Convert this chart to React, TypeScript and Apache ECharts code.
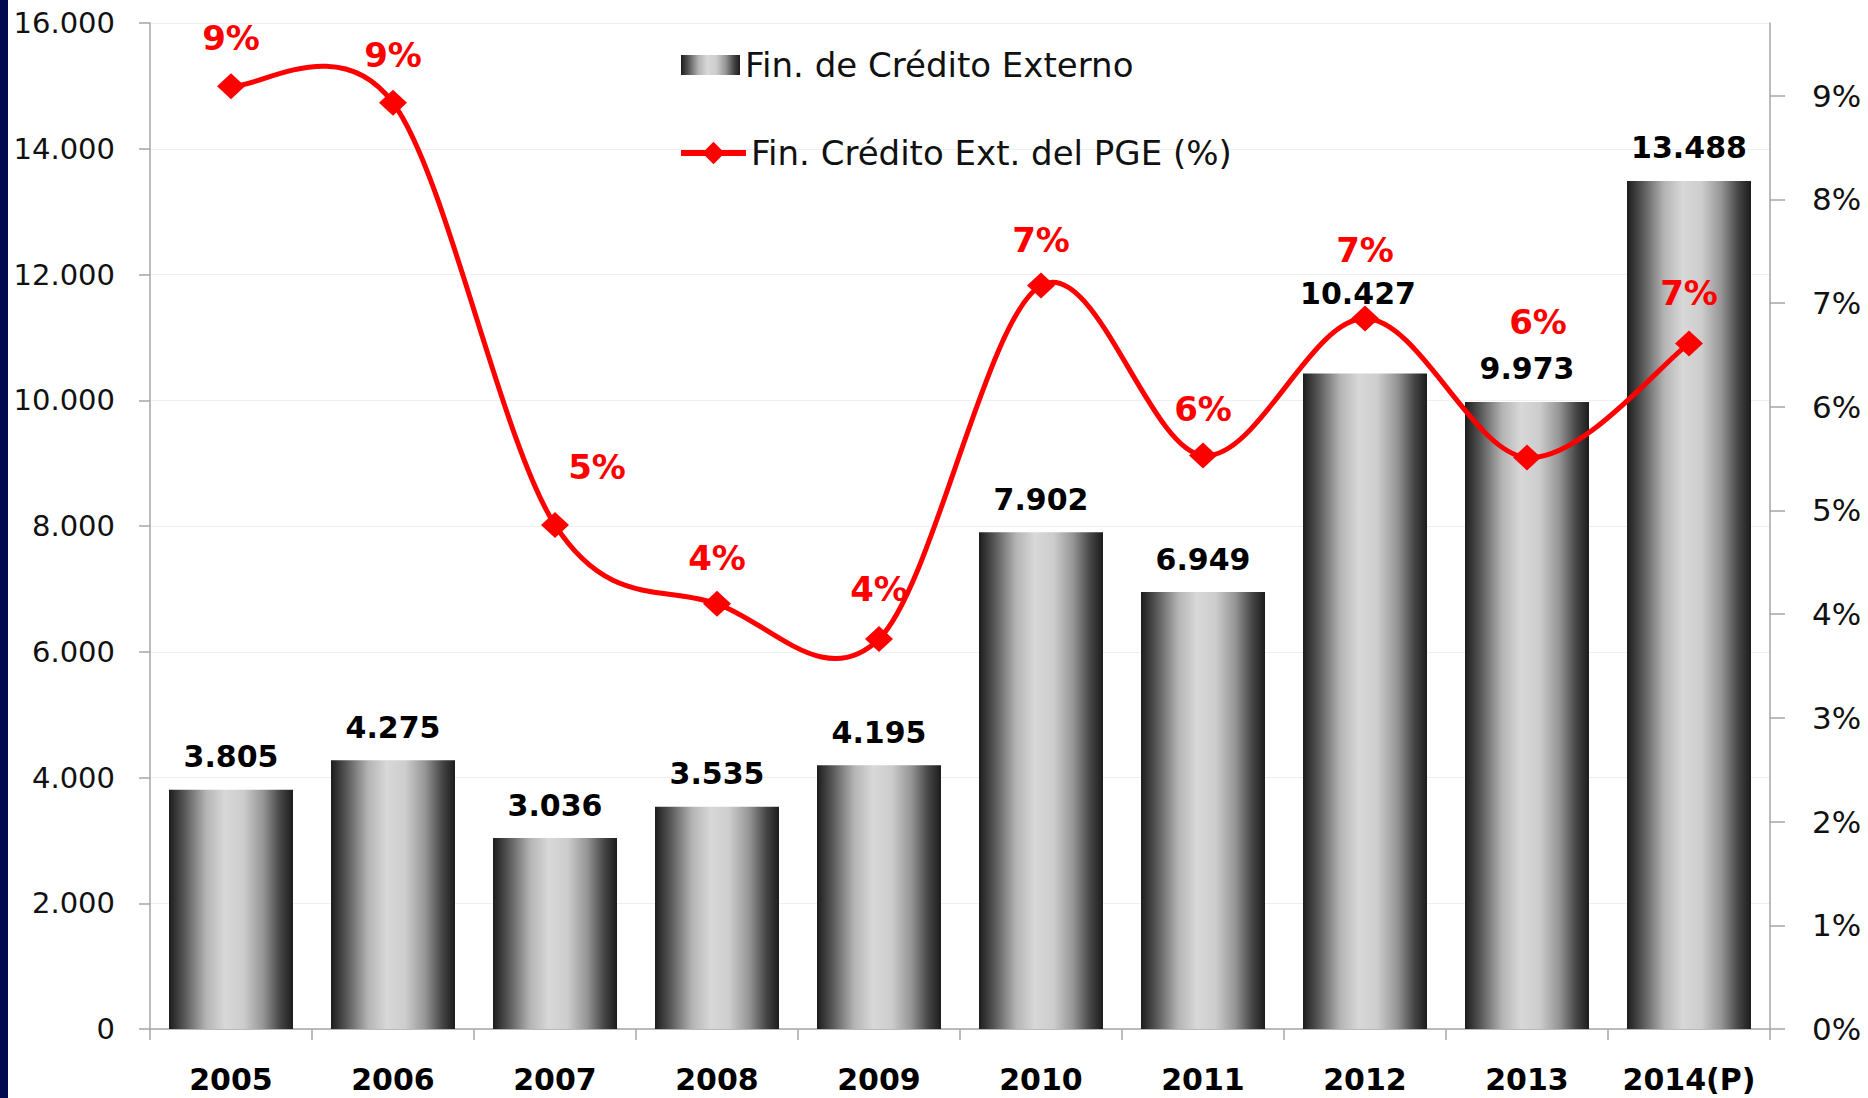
import React, { useEffect, useRef } from 'react';
import * as echarts from 'echarts';

const categories = ['2005', '2006', '2007', '2008', '2009', '2010', '2011', '2012', '2013', '2014(P)'];
const creditValues = [3805, 4275, 3036, 3535, 4195, 7902, 6949, 10427, 9973, 13488];
const pgeShare = [9.09, 8.93, 4.86, 4.1, 3.76, 7.17, 5.53, 6.85, 5.51, 6.61];
const rightTickValues = [0, 1, 2, 3, 4, 5, 6, 7, 8, 9];

const barSeriesName = 'Fin. de Crédito Externo';
const lineSeriesName = 'Fin. Crédito Ext. del PGE (%)';

// label placement tweaks (pixels)
const barLabelOffsets = [[0, 0], [0, 0], [0, 0], [0, 0], [0, 0], [0, 0], [0, 0], [-7, -47], [0, 0], [0, 0]];
const lineLabelOffsets = [[0, -48], [0, -48], [42, -58], [0, -46], [0, -50], [0, -45], [0, -46], [0, -69], [11, -136], [0, -50]];

const fmtThousands = (n: number) => String(Math.round(n)).replace(/\B(?=(\d{3})+(?!\d))/g, '.');

export default function App() {
  const ref = useRef<HTMLDivElement>(null);
  useEffect(() => {
    if (!ref.current) return;
    const chart = echarts.init(ref.current, null, { renderer: 'svg' });
    const barGradient = new echarts.graphic.LinearGradient(0, 0, 1, 0, [
      { offset: 0, color: '#1c1c1c' },
      { offset: 0.12, color: '#555555' },
      { offset: 0.3, color: '#b4b4b4' },
      { offset: 0.45, color: '#d8d8d8' },
      { offset: 0.6, color: '#cdcdcd' },
      { offset: 0.76, color: '#959595' },
      { offset: 0.9, color: '#444444' },
      { offset: 1, color: '#1c1c1c' },
    ]);
    const axisLineStyle = { color: '#a6a6a6', width: 1.5 };
    const legendText = { fontFamily: 'DejaVu Sans', fontSize: 34, color: '#111', lineHeight: 34 };
    chart.setOption({
      animation: false,
      backgroundColor: '#ffffff',
      graphic: [
        { type: 'rect', shape: { x: 0, y: 0, width: 8, height: 1098 }, style: { fill: '#03084f' }, z: 10 },
      ],
      grid: { left: 150, right: 98, top: 23, bottom: 69, containLabel: false },
      legend: [
        {
          left: 676,
          top: 43,
          itemWidth: 59,
          itemHeight: 20,
          textStyle: legendText,
          data: [{ name: barSeriesName, icon: 'rect' }],
        },
        {
          left: 673,
          top: 131,
          itemWidth: 65,
          itemHeight: 28,
          textStyle: legendText,
          lineStyle: { color: '#ff0000', width: 6, opacity: 1 },
          data: [{ name: lineSeriesName }],
        },
      ],
      xAxis: {
        type: 'category',
        data: categories,
        axisLine: { lineStyle: axisLineStyle },
        axisTick: { show: true, length: 11, lineStyle: axisLineStyle },
        axisLabel: { interval: 0, fontFamily: 'DejaVu Sans', fontWeight: 'bold', fontSize: 30, color: '#000', margin: 35 },
      },
      yAxis: [
        {
          type: 'value',
          min: 0,
          max: 16000,
          interval: 2000,
          axisLine: { show: true, lineStyle: axisLineStyle },
          axisTick: { show: true, length: 11, lineStyle: axisLineStyle },
          splitLine: { show: true, lineStyle: { color: '#efefef', width: 1 } },
          axisLabel: { fontFamily: 'DejaVu Sans', fontSize: 29, color: '#111', margin: 35, formatter: (v: number) => fmtThousands(v) },
        },
        {
          type: 'value',
          min: 0,
          max: 9.7,
          interval: 1,
          position: 'right',
          axisLine: { show: true, lineStyle: axisLineStyle },
          axisTick: { show: true, length: 15, lineStyle: axisLineStyle, customValues: rightTickValues },
          splitLine: { show: false },
          axisLabel: { fontFamily: 'DejaVu Sans', fontSize: 31, color: '#111', margin: 42, customValues: rightTickValues, formatter: (v: number) => Math.round(v) + '%' },
        },
      ],
      series: [
        {
          name: barSeriesName,
          type: 'bar',
          yAxisIndex: 0,
          barWidth: 124,
          itemStyle: { color: barGradient },
          label: {
            show: true,
            position: 'top',
            distance: 18,
            fontFamily: 'DejaVu Sans',
            fontWeight: 'bold',
            fontSize: 30,
            color: '#000',
            formatter: (p: any) => fmtThousands(p.value),
          },
          data: creditValues.map((v, i) => ({ value: v, label: { offset: barLabelOffsets[i] } })),
          z: 2,
        },
        {
          name: 'pgeCurve',
          type: 'custom',
          yAxisIndex: 1,
          silent: true,
          z: 4,
          encode: { x: 0, y: 1 },
          data: pgeShare.map((v, i) => [i, v]),
          renderItem: (params: any, api: any) => {
            if (params.dataIndex !== 0) return null;
            const pts = pgeShare.map((v, i) => api.coord([i, v]));
            let d = `M${pts[0][0]},${pts[0][1]}`;
            for (let i = 0; i < pts.length - 1; i++) {
              const p0 = pts[Math.max(i - 1, 0)];
              const p1 = pts[i];
              const p2 = pts[i + 1];
              const p3 = pts[Math.min(i + 2, pts.length - 1)];
              const c1 = [p1[0] + (p2[0] - p0[0]) / 6, p1[1] + (p2[1] - p0[1]) / 6];
              const c2 = [p2[0] - (p3[0] - p1[0]) / 6, p2[1] - (p3[1] - p1[1]) / 6];
              d += ` C${c1[0]},${c1[1]} ${c2[0]},${c2[1]} ${p2[0]},${p2[1]}`;
            }
            return {
              type: 'path',
              shape: { pathData: d },
              style: { fill: 'none', stroke: '#ff0000', lineWidth: 5, lineJoin: 'round', lineCap: 'round' },
            };
          },
        },
        {
          name: lineSeriesName,
          type: 'line',
          yAxisIndex: 1,
          symbol: 'diamond',
          symbolSize: [28, 26],
          itemStyle: { color: '#ff0000' },
          lineStyle: { color: '#ff0000', width: 5, opacity: 0 },
          label: {
            show: true,
            position: 'inside',
            fontFamily: 'DejaVu Sans',
            fontWeight: 'bold',
            fontSize: 34,
            color: '#ff0000',
            formatter: (p: any) => Math.round(p.value) + '%',
          },
          data: pgeShare.map((v, i) => ({ value: v, label: { offset: lineLabelOffsets[i] } })),
          z: 5,
        },
      ],
    });
    return () => chart.dispose();
  }, []);
  return (
    <div
      ref={ref}
      style={{ position: 'absolute', left: 0, top: 0, width: 1868, height: 1098, background: '#fff' }}
    />
  );
}
